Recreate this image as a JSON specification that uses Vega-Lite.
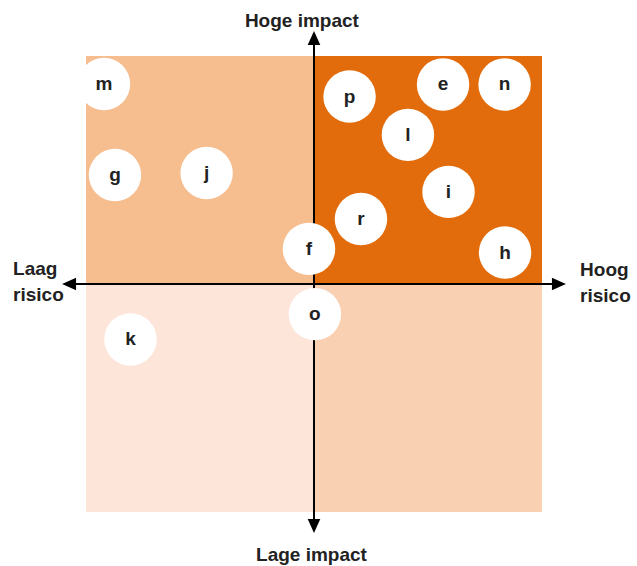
{
  "$schema": "https://vega.github.io/schema/vega-lite/v6.json",
  "width": 637,
  "height": 566,
  "autosize": {"type": "none"},
  "padding": 0,
  "background": "white",
  "config": {"view": {"stroke": null}},
  "datasets": {
    "quads": [
      {"x": -10, "x2": 0, "y": 0, "y2": 10, "q": "TL"},
      {"x": 0, "x2": 10, "y": 0, "y2": 10, "q": "TR"},
      {"x": -10, "x2": 0, "y": -10, "y2": 0, "q": "BL"},
      {"x": 0, "x2": 10, "y": -10, "y2": 0, "q": "BR"}
    ],
    "axes": [
      {"x": -10.9, "y": 0, "x2": 10.9, "y2": 0},
      {"x": 0, "y": 11.0, "x2": 0, "y2": -10.8}
    ],
    "heads": [
      {"x": -11.05, "y": 0, "dir": "left"},
      {"x": 11.05, "y": 0, "dir": "right"},
      {"x": 0, "y": 11.1, "dir": "up"},
      {"x": 0, "y": -10.92, "dir": "down"}
    ],
    "risks": [
      {"label": "m", "x": -9.21, "y": 8.77},
      {"label": "p", "x": 1.56, "y": 8.22},
      {"label": "e", "x": 5.66, "y": 8.75},
      {"label": "n", "x": 8.36, "y": 8.75},
      {"label": "l", "x": 4.12, "y": 6.54},
      {"label": "g", "x": -8.73, "y": 4.78},
      {"label": "j", "x": -4.71, "y": 4.87},
      {"label": "i", "x": 5.9, "y": 4.04},
      {"label": "r", "x": 2.06, "y": 2.85},
      {"label": "f", "x": -0.22, "y": 1.54},
      {"label": "h", "x": 8.38, "y": 1.38},
      {"label": "o", "x": 0.04, "y": -1.32},
      {"label": "k", "x": -8.05, "y": -2.43}
    ],
    "centerLabels": [
      {"label": "Hoge impact", "x": -0.53, "y": 11.25},
      {"label": "Lage impact", "x": -0.11, "y": -12.15}
    ],
    "sideLabels": [
      {"label": "Laag", "x": -13.2, "y": 0.395},
      {"label": "risico", "x": -13.2, "y": -0.746},
      {"label": "Hoog", "x": 11.67, "y": 0.351},
      {"label": "risico", "x": 11.67, "y": -0.789}
    ]
  },
  "encoding": {
    "x": {"field": "x", "type": "quantitative", "axis": null,
          "scale": {"domain": [-13.772, 14.167], "nice": false, "zero": false}},
    "y": {"field": "y", "type": "quantitative", "axis": null,
          "scale": {"domain": [-12.368, 12.456], "nice": false, "zero": false}}
  },
  "layer": [
    {
      "data": {"name": "quads"},
      "mark": {"type": "rect", "strokeWidth": 0},
      "encoding": {
        "x2": {"field": "x2"},
        "y2": {"field": "y2"},
        "color": {"field": "q", "type": "nominal", "legend": null,
                  "scale": {"domain": ["TL", "TR", "BL", "BR"],
                            "range": ["#F6BD8F", "#E26C0B", "#FDE6D9", "#FAD0B2"]}}
      }
    },
    {
      "data": {"name": "axes"},
      "mark": {"type": "rule", "color": "#000000", "strokeWidth": 2},
      "encoding": {
        "x2": {"field": "x2"},
        "y2": {"field": "y2"}
      }
    },
    {
      "data": {"name": "heads"},
      "mark": {"type": "point", "filled": true, "color": "#000000", "opacity": 1, "size": 196, "strokeWidth": 0},
      "encoding": {
        "shape": {"field": "dir", "type": "nominal", "legend": null,
                  "scale": {"domain": ["left", "right", "up", "down"],
                            "range": ["M0,0L2,-0.9L2,0.9Z", "M0,0L-2,-0.9L-2,0.9Z", "M0,0L-0.9,2L0.9,2Z", "M0,0L-0.9,-2L0.9,-2Z"]}}
      }
    },
    {
      "data": {"name": "risks"},
      "mark": {"type": "point", "shape": "circle", "filled": true, "color": "#FFFFFF", "opacity": 1, "size": 2750, "strokeWidth": 0}
    },
    {
      "data": {"name": "risks"},
      "mark": {"type": "text", "font": "Liberation Sans", "fontWeight": "bold", "fontSize": 19, "color": "#222222", "align": "center", "baseline": "middle", "dy": 0},
      "encoding": {"text": {"field": "label"}}
    },
    {
      "data": {"name": "centerLabels"},
      "mark": {"type": "text", "font": "Liberation Sans", "fontWeight": "bold", "fontSize": 19, "color": "#222222", "align": "center", "baseline": "alphabetic"},
      "encoding": {"text": {"field": "label"}}
    },
    {
      "data": {"name": "sideLabels"},
      "mark": {"type": "text", "font": "Liberation Sans", "fontWeight": "bold", "fontSize": 19, "color": "#222222", "align": "left", "baseline": "alphabetic"},
      "encoding": {"text": {"field": "label"}}
    }
  ]
}
